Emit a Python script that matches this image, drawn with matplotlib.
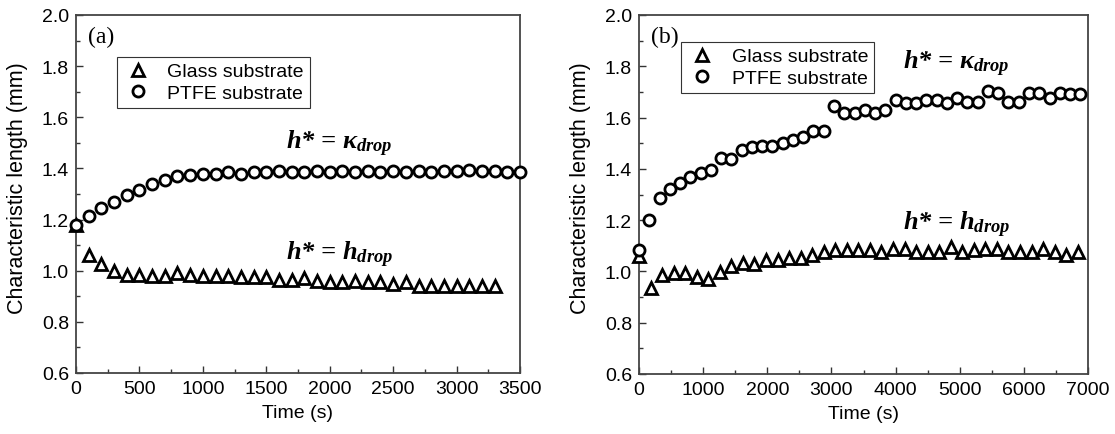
import numpy as np
import matplotlib
matplotlib.use('Agg')
import matplotlib.pyplot as plt

plt.rcParams['font.family'] = ['Liberation Sans', 'DejaVu Sans']
plt.rcParams['mathtext.fontset'] = 'custom'
plt.rcParams['mathtext.it'] = 'Liberation Serif:italic:bold'
plt.rcParams['mathtext.rm'] = 'Liberation Serif:bold'

# (a) time in s, characteristic length in mm
time_glass_a = np.arange(0, 3301, 100)
glass_a = [1.18, 1.06, 1.025, 1.00, 0.985, 0.985, 0.98, 0.98, 0.99, 0.985,
           0.98, 0.98, 0.98, 0.975, 0.975, 0.975, 0.965, 0.965, 0.97, 0.96,
           0.955, 0.955, 0.96, 0.955, 0.955, 0.95, 0.955, 0.94, 0.94, 0.94,
           0.94, 0.94, 0.94, 0.94]
time_ptfe_a = np.arange(0, 3501, 100)
ptfe_a = [1.18, 1.215, 1.245, 1.27, 1.295, 1.315, 1.34, 1.355, 1.37, 1.375,
          1.38, 1.38, 1.385, 1.38, 1.385, 1.385, 1.39, 1.385, 1.385, 1.39,
          1.385, 1.39, 1.385, 1.39, 1.385, 1.39, 1.385, 1.39, 1.385, 1.39,
          1.39, 1.395, 1.39, 1.39, 1.385, 1.385]

# (b)
time_glass_b = np.arange(0, 6841, 180)
glass_b = [1.06, 0.937, 0.986, 0.992, 0.992, 0.979, 0.970, 0.996, 1.021, 1.031,
           1.029, 1.044, 1.046, 1.051, 1.051, 1.063, 1.077, 1.083, 1.082, 1.082,
           1.082, 1.077, 1.089, 1.087, 1.077, 1.077, 1.077, 1.096, 1.077, 1.083,
           1.089, 1.087, 1.077, 1.077, 1.077, 1.087, 1.077, 1.063, 1.077]
time_ptfe_b = np.arange(0, 6881, 160)
ptfe_b = [1.083, 1.20, 1.288, 1.323, 1.345, 1.368, 1.385, 1.394, 1.444, 1.440,
          1.475, 1.485, 1.491, 1.491, 1.502, 1.511, 1.524, 1.547, 1.547, 1.645,
          1.617, 1.617, 1.630, 1.617, 1.630, 1.670, 1.656, 1.656, 1.668, 1.668,
          1.656, 1.677, 1.660, 1.660, 1.702, 1.697, 1.660, 1.660, 1.696, 1.696,
          1.675, 1.697, 1.693, 1.693]

fig = plt.figure(figsize=(11.15, 4.35), dpi=100)
ax1 = fig.add_axes([76 / 1115, 1 - 374 / 435, 444 / 1115, 358 / 435])
ax2 = fig.add_axes([639 / 1115, 1 - 375 / 435, 449 / 1115, 359 / 435])

mk = dict(linestyle='none', markerfacecolor='white', markeredgecolor='black',
          markeredgewidth=2.0, clip_on=False)

panels = [
    (ax1, time_glass_a, glass_a, time_ptfe_a, ptfe_a, 3500, 500, 250, '(a)',
     (0.092, 0.883), (0.473, 0.626), (0.473, 0.318)),
    (ax2, time_glass_b, glass_b, time_ptfe_b, ptfe_b, 7000, 1000, 500, '(b)',
     (0.0935, 0.925), (0.588, 0.85), (0.588, 0.404)),
]

for ax, tg, g, tp, p, xmax, xmaj, xmin, tag, leg_pos, k_pos, h_pos in panels:
    ax.plot(tg, g, marker='^', markersize=9, label='Glass substrate', zorder=3, **mk)
    ax.plot(tp, p, marker='o', markersize=8, label='PTFE substrate', zorder=4, **mk)

    ax.set_xlim(0, xmax)
    ax.set_ylim(0.6, 2.0)
    ax.set_xticks(np.arange(0, xmax + 1, xmaj))
    ax.set_xticks(np.arange(xmin, xmax, xmaj), minor=True)
    ax.set_yticks(np.arange(0.6, 2.01, 0.2))
    ax.set_yticks(np.arange(0.7, 2.0, 0.2), minor=True)
    ax.yaxis.set_major_formatter(matplotlib.ticker.FormatStrFormatter('%.1f'))
    ax.tick_params(which='both', direction='in', labelsize=14, colors='#333333',
                   labelcolor='black', pad=5, width=1.0)
    ax.tick_params(which='major', length=5)
    ax.tick_params(which='minor', length=3)
    for s in ax.spines.values():
        s.set_color('#444444')
        s.set_linewidth(1.3)

    ax.set_xlabel('Time (s)', fontsize=14, labelpad=5)
    ax.set_ylabel('Characteristic length (mm)', fontsize=15.5)
    ax.yaxis.set_label_coords(-0.108, 0.52)

    ax.text(0.026, 0.97, tag, transform=ax.transAxes, fontsize=17,
            family='Liberation Serif', va='top', ha='left')

    ax.legend(loc='upper left', bbox_to_anchor=leg_pos, borderaxespad=0,
              fancybox=False, edgecolor='#333333', framealpha=1, fontsize=14,
              handletextpad=0.7, borderpad=0.3, labelspacing=0.2,
              handlelength=1.6).get_frame().set_linewidth(0.8)

    ax.text(k_pos[0], k_pos[1], 'h* = κ$_{drop}$', transform=ax.transAxes,
            fontsize=19, family='Liberation Serif', weight='bold', style='italic',
            ha='left', va='baseline')
    ax.text(h_pos[0], h_pos[1], 'h* = h$_{drop}$', transform=ax.transAxes,
            fontsize=19, family='Liberation Serif', weight='bold', style='italic',
            ha='left', va='baseline')

fig.savefig('out.png', dpi=100)
